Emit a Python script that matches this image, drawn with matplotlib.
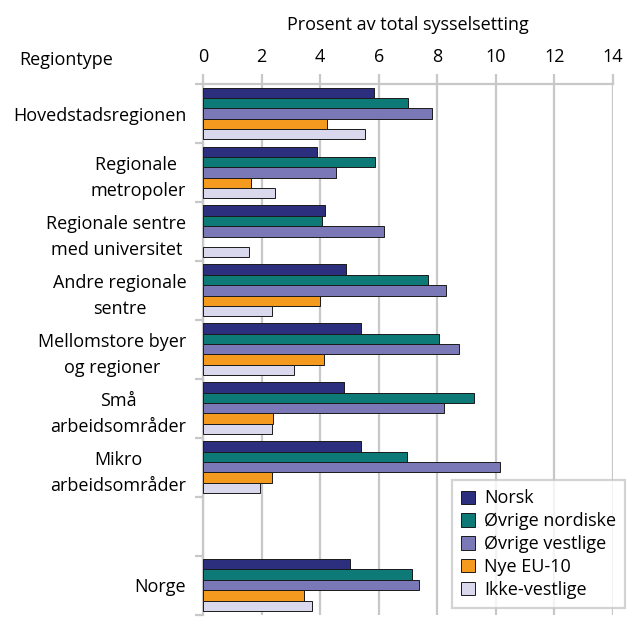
import numpy as np
import matplotlib
matplotlib.use("Agg")
import matplotlib.pyplot as plt

plt.rcParams['font.family'] = ['Open Sans', 'DejaVu Sans']

# regiontyper (tom plass mellom Mikro og Norge)
regioner = ["Hovedstadsregionen", "Regionale \nmetropoler", "Regionale sentre\nmed universitet",
            "Andre regionale\nsentre", "Mellomstore byer\nog regioner", "Små\narbeidsområder",
            "Mikro\narbeidsområder", "", "Norge"]
serier = ["Norsk", "Øvrige nordiske", "Øvrige vestlige", "Nye EU-10", "Ikke-vestlige"]
farger = ["#2b2f7e", "#0e7a78", "#7b78b8", "#f39a1f", "#d9d8ec"]

norsk = [5.83, 3.91, 4.15, 4.90, 5.39, 4.83, 5.38, np.nan, 5.03]
ovr_nordiske = [7.00, 5.89, 4.05, 7.70, 8.05, 9.27, 6.96, np.nan, 7.12]
ovr_vestlige = [7.81, 4.53, 6.18, 8.30, 8.75, 8.24, 10.13, np.nan, 7.37]
nye_eu10 = [4.24, 1.63, np.nan, 3.99, 4.12, 2.39, 2.36, np.nan, 3.45]
ikke_vestlige = [5.52, 2.46, 1.58, 2.37, 3.11, 2.37, 1.93, np.nan, 3.71]
verdier = [norsk, ovr_nordiske, ovr_vestlige, nye_eu10, ikke_vestlige]

fs = 13
fig = plt.figure(figsize=(6.3, 6.17), dpi=100)
ax = fig.add_axes([0.3222, 0.004, 0.6508, 0.8598])

y = np.arange(len(regioner))
h = 0.176
for i, (navn, v, f) in enumerate(zip(serier, verdier, farger)):
    ax.barh(y + (i - 2) * h, v, height=h, color=f, edgecolor="#1a1a1a",
            linewidth=0.7, label=navn, zorder=3)

ax.set_xlim(0, 14)
ax.set_ylim(len(regioner) - 0.5, -0.5)
ax.xaxis.tick_top()
ax.xaxis.set_label_position("top")
ax.set_xticks(range(0, 15, 2))
ax.set_xlabel("Prosent av total sysselsetting", fontsize=fs, labelpad=13)
ax.grid(axis="x", color="#c8c8c8", linewidth=1.6, zorder=0)
ax.tick_params(axis="x", length=7, width=1.6, color="#c8c8c8", labelsize=fs, pad=6)

ax.set_yticks(y)
ax.set_yticklabels(regioner, fontsize=fs, multialignment="center", linespacing=1.55)
ax.set_yticks(np.arange(-0.5, len(regioner) + 0.5, 1), minor=True)
ax.tick_params(axis="y", which="major", length=0, pad=12)
ax.tick_params(axis="y", which="minor", length=6, width=1.6, color="#c8c8c8")

for s in ["top", "left"]:
    ax.spines[s].set_color("#c8c8c8")
    ax.spines[s].set_linewidth(1.6)
for s in ["right", "bottom"]:
    ax.spines[s].set_visible(False)

fig.text(0.105, 0.903, "Regiontype", fontsize=fs, ha="center", va="center")

leg = ax.legend(loc="lower right", bbox_to_anchor=(0.992, 0.0146),
                bbox_transform=fig.transFigure, borderaxespad=0, fontsize=fs,
                frameon=True, fancybox=False, handlelength=0.75, handleheight=0.75,
                handletextpad=0.5, labelspacing=0.27, borderpad=0.5)
leg.get_frame().set_edgecolor("#c8c8c8")
leg.get_frame().set_linewidth(1.6)

fig.savefig("out.png", dpi=100)
